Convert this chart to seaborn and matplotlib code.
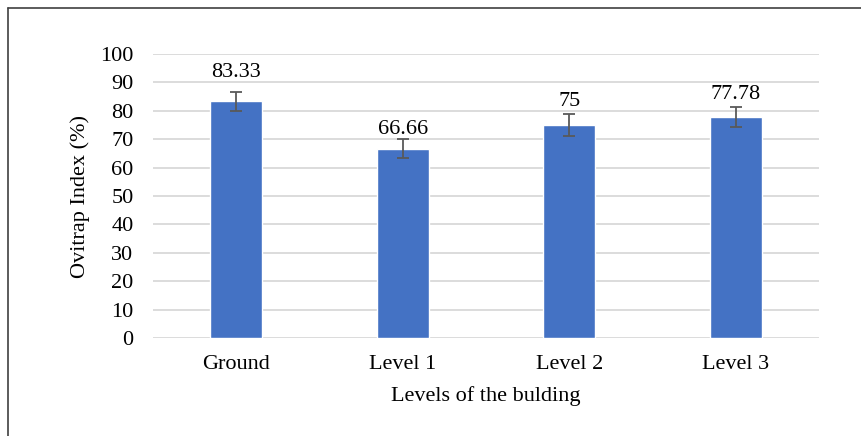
import matplotlib
matplotlib.use("Agg")
import matplotlib.pyplot as plt
import seaborn as sns
import pandas as pd
from matplotlib.lines import Line2D

categories = ["Ground", "Level 1", "Level 2", "Level 3"]
values = [83.33, 66.66, 75, 77.78]
errors = [3.3, 3.3, 3.9, 3.4]
labels = ["83.33", "66.66", "75", "77.78"]
yticks = [0, 10, 20, 30, 40, 50, 60, 70, 80, 90, 100]

sns.set_theme(style="white")
plt.rcParams["font.family"] = ["Liberation Serif", "DejaVu Serif"]

df = pd.DataFrame({"level": categories, "value": values})

W, H = 862, 436
fig = plt.figure(figsize=(W/100, H/100), dpi=100)
ax = fig.add_axes([153/W, (H-338)/H, (819-153)/W, (338-54)/H])

sns.barplot(data=df, x="level", y="value", color="#4472C4", width=0.31,
            saturation=1, errorbar=None, ax=ax, zorder=3)
ax.errorbar(x=categories, y=values, yerr=errors, fmt="none", ecolor="#595959",
            elinewidth=1.3, capsize=4.5, capthick=1.3, zorder=4)

label_offsets = [7.5, 0, 2, 2.5]
for i, (v, e, t, o) in enumerate(zip(values, errors, labels, label_offsets)):
    ax.annotate(t, xy=(i, v + e), xytext=(0, o), textcoords="offset points",
                ha="center", va="bottom", fontsize=16, color="#000000")

ax.set_ylim(0, 100)
ax.set_xlim(-0.5, 3.5)
ax.set_yticks(yticks)
ax.set_yticklabels([str(t) for t in yticks])
ax.yaxis.grid(True, color="#d9d9d9", linewidth=1.3, zorder=0)
ax.set_axisbelow(True)
for s in ax.spines.values():
    s.set_visible(False)
ax.tick_params(axis="both", length=0, labelsize=16, colors="#000000")
ax.tick_params(axis="y", pad=14)
ax.tick_params(axis="x", pad=12)
ax.set_xlabel("Levels of the bulding", fontsize=16, labelpad=9, color="#000000")
ax.set_ylabel("Ovitrap Index (%)", fontsize=16, labelpad=7, color="#000000")

fig.lines.append(Line2D([8/W, 8/W], [0, 1 - 8/H], transform=fig.transFigure,
                        color="#404040", linewidth=1.2))
fig.lines.append(Line2D([8/W, 1], [1 - 8/H, 1 - 8/H], transform=fig.transFigure,
                        color="#404040", linewidth=1.2))

fig.savefig("out.png", dpi=100)
